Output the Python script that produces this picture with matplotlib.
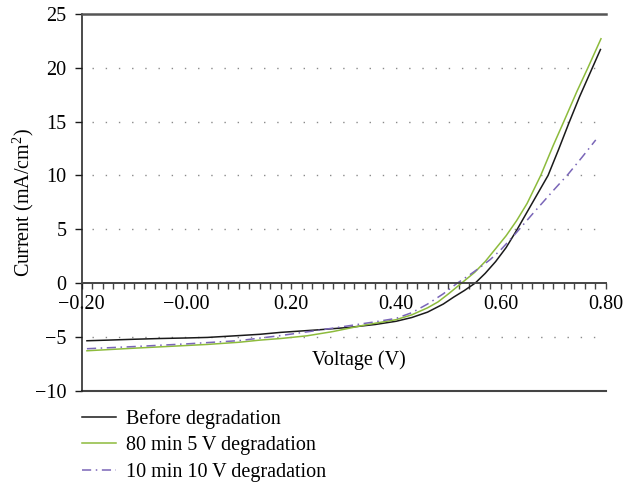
import numpy as np
import matplotlib
matplotlib.use('Agg')
import matplotlib.pyplot as plt
from matplotlib.ticker import MultipleLocator

plt.rcParams['font.family'] = ['Liberation Serif', 'DejaVu Serif']
plt.rcParams['mathtext.fontset'] = 'custom'
plt.rcParams['mathtext.rm'] = 'Liberation Serif'
plt.rcParams['font.size'] = 14.5

# curva antes de la degradacion
v_before = [-0.19, -0.15, -0.10, -0.05, 0.00, 0.04, 0.10, 0.14, 0.18, 0.25, 0.31,
            0.36, 0.40, 0.43, 0.46, 0.49, 0.51, 0.53, 0.551, 0.57, 0.59, 0.61,
            0.63, 0.65, 0.67, 0.69, 0.71, 0.73, 0.75, 0.77, 0.79]
i_before = [-5.36, -5.30, -5.22, -5.15, -5.10, -5.05, -4.88, -4.76, -4.58, -4.35, -4.12,
            -3.85, -3.55, -3.20, -2.70, -1.95, -1.30, -0.70, 0.0, 0.9, 2.0, 3.3,
            4.9, 6.6, 8.3, 10.0, 12.4, 14.9, 17.3, 19.5, 21.7]

# 80 min 5 V
v_5v = [-0.19, -0.10, 0.00, 0.04, 0.10, 0.14, 0.18, 0.23, 0.28, 0.34, 0.40,
        0.43, 0.46, 0.48, 0.50, 0.525, 0.55, 0.57, 0.59, 0.61, 0.63, 0.65,
        0.676, 0.70, 0.72, 0.745, 0.766, 0.791]
i_5v = [-6.29, -6.05, -5.80, -5.70, -5.50, -5.30, -5.15, -4.90, -4.50, -3.90, -3.40,
        -2.95, -2.30, -1.75, -1.00, 0.0, 1.0, 2.0, 3.2, 4.4, 5.8, 7.4,
        10.0, 12.8, 15.0, 17.8, 20.0, 22.7]

# 10 min 10 V
v_10v = [-0.19, -0.10, 0.00, 0.10, 0.176, 0.25, 0.312, 0.36, 0.40, 0.43,
         0.46, 0.49, 0.517, 0.54, 0.56, 0.58, 0.60, 0.628, 0.66, 0.70,
         0.728, 0.755, 0.781]
i_10v = [-6.10, -5.90, -5.65, -5.35, -4.90, -4.40, -3.95, -3.60, -3.28, -2.75,
         -1.95, -1.00, 0.0, 0.75, 1.45, 2.2, 3.1, 4.6, 6.4, 8.6,
         10.1, 11.7, 13.3]

labels = ['Before degradation', '80 min 5 V degradation', '10 min 10 V degradation']
xtick_vals = [-0.2, 0.0, 0.2, 0.4, 0.6, 0.8]
xtick_labels = ['\u22120.20', '\u22120.00', '0.20', '0.40', '0.60', '0.80']
ytick_vals = [-10, -5, 0, 5, 10, 15, 20, 25]
ytick_labels = ['\u221210', '\u22125', '0', '5', '10', '15', '20', '25']
grid_vals = [-5, 5, 10, 15, 20]

fig = plt.figure(figsize=(6.23, 4.88), dpi=100)
ax = fig.add_axes([81.7/623, 1-390.7/488, 524/623, 376.7/488])

for g in grid_vals:
    ax.axhline(g, xmin=0.02, xmax=0.99, color='#8a8a8a', lw=1.0, ls=(0, (1, 8.5)), zorder=0)

ax.plot(v_before, i_before, color='#1a1a1a', lw=1.1, label=labels[0])
ax.plot(v_5v, i_5v, color='#8dbb3c', lw=1.1, label=labels[1])
ax.plot(v_10v, i_10v, color='#7a66b8', lw=1.1, ls=(0, (6, 3, 1, 3)), label=labels[2])

ax.set_xlim(-0.2, 0.8)
ax.set_ylim(-10, 25)

ax.spines['right'].set_visible(False)
ax.spines['bottom'].set_position(('data', 0))
ax.spines['bottom'].set_color('#444444')
ax.spines['bottom'].set_linewidth(1.4)
ax.spines['top'].set_color('#555555')
ax.spines['top'].set_linewidth(1.8)
ax.spines['left'].set_color('#1a1a1a')
ax.spines['left'].set_linewidth(1.1)
ax.axhline(-10, color='#444444', lw=1.5, clip_on=False)

ax.set_xticks(xtick_vals)
ax.set_xticklabels(xtick_labels)
ax.xaxis.set_minor_locator(MultipleLocator(0.02))
ax.tick_params(axis='x', which='both', direction='out', length=4, width=1, color='#444444', pad=4.5)
ax.set_yticks(ytick_vals)
ax.set_yticklabels(ytick_labels)
ax.tick_params(axis='y', direction='out', length=5, width=1, color='#1a1a1a', pad=6)

ax.set_xlabel('Voltage (V)')
ax.xaxis.set_label_coords(0.5286, 0.108)
ax.set_ylabel('Current (mA/cm$^2$)')
ax.yaxis.set_label_coords(-0.088, 0.5)

fig.legend(loc='upper left', bbox_to_anchor=(81.7/623, 1-409/488), frameon=False,
           borderpad=0, borderaxespad=0, handlelength=1.7, handletextpad=0.5,
           labelspacing=0.37)

plt.savefig('out.png', dpi=100)
